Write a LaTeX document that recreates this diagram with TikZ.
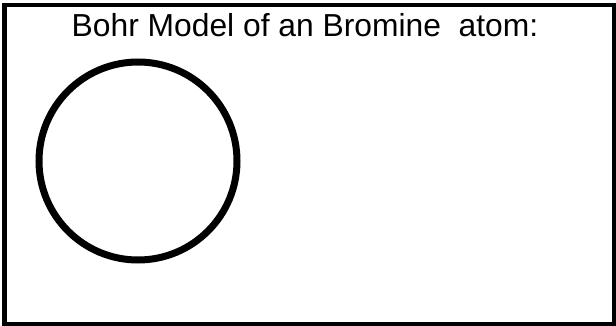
\documentclass[tikz,border=0pt]{standalone}
\usepackage{fontspec}
\setmainfont{Liberation Sans}
\begin{document}
\begin{tikzpicture}[x=1pt, y=-1pt, semithick]
    \tikzset{frame/.style={draw=black, line width=4.5pt},
             shell/.style={draw=black, circle, line width=7pt, minimum size=198pt, inner sep=0pt}};
    \useasboundingbox (0,0) rectangle (616,326);
    \draw[frame] (4.5,5) rectangle (614.5,324.5);
    \node[anchor=base, font=\fontsize{26.5}{30}\selectfont, inner sep=0pt, scale=1.2] (title) at (305,36.3) {Bohr Model of an Bromine\ \ atom:};
    \node[shell] (atom) at (138,161) {};
\end{tikzpicture}
\end{document}
